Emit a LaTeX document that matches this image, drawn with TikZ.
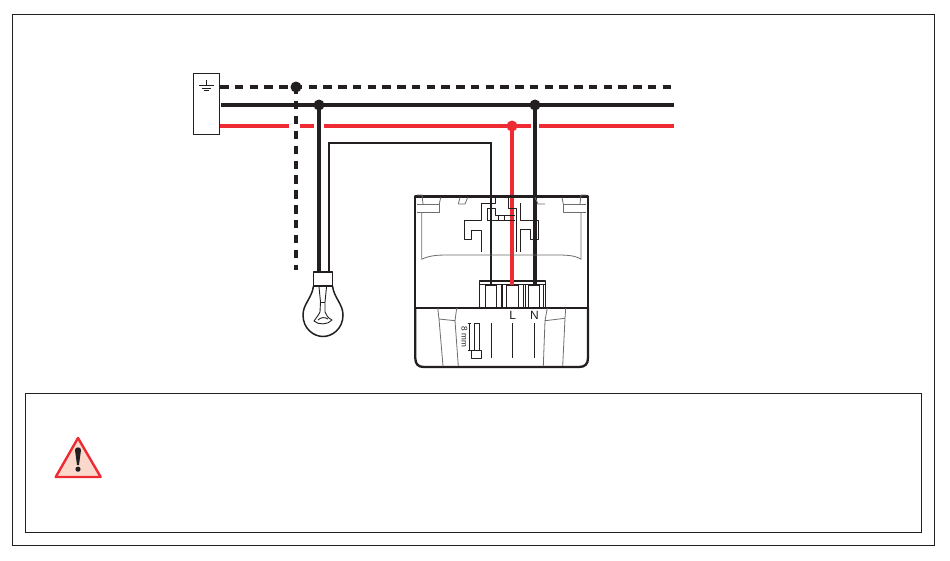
\documentclass[tikz,border=0pt]{standalone}
\usepackage{fontspec}
\setmainfont{Liberation Sans}
\definecolor{wred}{HTML}{EE2A32}
\definecolor{wblack}{HTML}{231F20}
\definecolor{hgray}{HTML}{6E6E6E}
\definecolor{warnfill}{HTML}{FAD9CC}
\tikzset{
  frame/.style={draw=wblack,line width=0.8pt},
  blackwire/.style={draw=wblack,line width=4.2pt},
  redwire/.style={draw=wred,line width=3.8pt},
  pewire/.style={draw=wblack,line width=4.2pt,dash pattern=on 8.5pt off 6.25pt},
  thinwire/.style={draw=wblack,line width=1.8pt},
  blackdot/.style={circle,fill=wblack,inner sep=0pt,minimum size=11pt},
  reddot/.style={circle,fill=wred,inner sep=0pt,minimum size=11pt},
  casing/.style={draw=wblack,line width=2.3pt,line join=round},
  fineline/.style={draw=wblack,line width=0.9pt,line join=round},
  hidden/.style={draw=hgray,line width=0.8pt,line join=round},
  lamp/.style={draw=wblack,line width=1.5pt,line join=round},
  terminalbox/.style={draw=wblack,line width=1.1pt,minimum width=11.5pt,minimum height=22pt,inner sep=0pt},
}
\begin{document}
\begin{tikzpicture}[x=1pt,y=-1pt]
\useasboundingbox (0,0) rectangle (950,560);
\fill[white] (0,0) rectangle (950,560);
\draw[frame] (12,14) rectangle (934,545);
\draw[frame] (25,393) rectangle (921,532);

% supply box with earth symbol
\node[draw=wblack,line width=1pt,minimum width=26pt,minimum height=61pt,inner sep=0pt] (supply) at (206.5,103.5) {};
\draw[fineline] (206.3,80) -- (206.3,85.7) (199,85.7) -- (214,85.7) (202.3,88.5) -- (210.5,88.5) (203.8,90.5) -- (209,90.5);

% named points
\coordinate (peS) at (220,87);
\coordinate (peE) at (673,87);
\coordinate (nS) at (221,105);
\coordinate (nE) at (674,105);
\coordinate (lS) at (219.5,126);
\coordinate (lE) at (674,126);
\node[blackdot] (peJ) at (296,87) {};
\node[blackdot] (nJ1) at (319,105) {};
\node[blackdot] (nJ2) at (535,105) {};
\node[reddot] (lJ) at (512,126) {};
\coordinate (peEnd) at (296,270);
\coordinate (lampN) at (319,272);
\coordinate (lampS) at (329,272);
\coordinate (swA) at (329,143);
\coordinate (swB) at (491,143);
\coordinate (swC) at (491,285);
\coordinate (termL) at (512,285);
\coordinate (termN) at (535,285);

% horizontal wires
\draw[pewire] (peS) -- (peE);
\draw[blackwire] (nS) -- (nE);
\draw[redwire] (lS) -- (289,126);
\draw[redwire] (300,126) -- (313.5,126);
\draw[redwire] (323.5,126) -- (530.5,126);
\draw[redwire] (539,126) -- (lE);

% vertical wires
\draw[pewire,dash pattern=on 8.3pt off 6.6pt,dash phase=1pt] (peJ.center) -- (peEnd);
\draw[blackwire] (nJ1.center) -- (lampN);
\draw[thinwire] (lampS) -- (swA) -- (swB) -- (swC);
\draw[redwire] (lJ.center) -- (termL);
\draw[blackwire] (nJ2.center) -- (termN);

% lamp
\draw[lamp,fill=white] (313.3,271.8) rectangle (332.7,286);
\draw[lamp] (313.5,286) .. controls (312,298) and (303,304) .. (303,315)
  .. controls (303,329) and (314,336.5) .. (323,336.5)
  .. controls (332,336.5) and (343,329) .. (343,315)
  .. controls (343,304) and (334,298) .. (332.5,286);
\draw[lamp,line width=0.9pt] (319,287) -- (320.5,302) -- (320,312) .. controls (318,316) and (316,318) .. (314,321)
  .. controls (318,325) and (328,325) .. (332,320) .. controls (328,318) and (326,315) .. (325,312) -- (325,302) -- (326.5,287);
\draw[lamp,line width=0.9pt] (320.5,302) -- (325,302);
\draw[lamp,line width=0.9pt] (318,320) .. controls (321,317) and (325,317) .. (328,319);

% device casing
\draw[casing] (415.3,308) -- (415.3,196.5) -- (588,196.5) -- (588,308);
\draw[casing] (415.3,308) -- (415.3,358) .. controls (415.3,364) and (418,367) .. (424,367) -- (579,367) .. controls (585,367) and (588,364) .. (588,358) -- (588,308);
\draw[fineline,line width=1.1pt] (415.3,308) -- (588,308);
\draw[hidden] (417,195) -- (422,195) -- (423,204);
\draw[hidden] (586,195) -- (581,195) -- (580,204);

% device top: hidden contours
\draw[hidden] (417,204) -- (439.3,204) -- (439.3,212.3) -- (417,212.3);
\draw[hidden] (439.3,204) -- (440.7,197.5);
\draw[hidden] (458.3,204) -- (465,204) -- (467.7,197.5);
\draw[hidden] (460,197.5) -- (458.3,204);
\draw[hidden] (586,204) -- (563.3,204) -- (563.3,212.3) -- (586,212.3);
\draw[hidden] (545,204) -- (538,204) -- (535,197.5);
\draw[hidden] (563.3,204) -- (562,197.5);
\draw[hidden] (421.7,212.3) -- (421.7,259.3) .. controls (430,255) and (440,255) .. (450,255) -- (555,255) .. controls (565,255) and (575,255) .. (581,259.3) -- (581,212.3);

% device: central switch contour
\draw[fineline] (481.7,251.7) -- (481.7,230) -- (471.7,230) -- (471.7,239.3) -- (464.3,239.3) -- (464.3,220.7) -- (481.7,220.7) -- (481.7,203.3) -- (495,203.3) -- (495,197.5);
\draw[fineline] (508.3,197.5) -- (508.3,208.3) -- (516,208.3) -- (516,251.7);
\draw[fineline] (520.7,203.3) -- (520.7,220.7) -- (538.3,220.7) -- (538.3,239.3) -- (530.7,239.3) -- (530.7,229.3) -- (520.7,229.3) -- (520.7,251.7);
\draw[fineline] (487.3,220.7) -- (487.3,208.3) -- (495,208.3) -- (495,215) -- (515,215);
\draw[fineline] (487.3,220.7) -- (515,220.7);
\draw[fineline] (498.3,215) rectangle (504.3,220.7);

% terminal block
\draw[fineline,line width=1.1pt] (479.3,308) -- (479.3,281) -- (545.7,281) -- (545.7,308);
\draw[fineline] (479.3,284.5) -- (545.7,284.5);
\node[terminalbox] (t1) at (491,296.5) {};
\node[terminalbox] (t2) at (512.5,296.5) {};
\node[terminalbox] (t3) at (534,296.5) {};
\draw[fineline] (501,285) -- (501,308) (502.5,285) -- (502.5,308) (523.5,285) -- (523.5,308) (525,285) -- (525,308) (543,285) -- (543,308);

% wire ends over terminals
\draw[thinwire] (491,280) -- (swC);
\draw[redwire] (512,280) -- (termL);
\draw[blackwire] (535,280) -- (termN);

% device bottom
\draw[hidden] (437.7,308) -- (439,319) -- (455,320.7) -- (456.7,308);
\draw[hidden] (439,319) -- (443,366);
\draw[hidden] (455,320.7) -- (458.3,366);
\draw[hidden] (565.7,308) -- (565,318.3) -- (545,320.7) -- (547.3,308);
\draw[hidden] (545,320.7) -- (543.3,366);
\draw[hidden] (565,318.3) -- (562.7,366);
\draw[fineline] (491.7,323) -- (491.7,358) (512.3,323) -- (512.3,358) (534.3,323) -- (534.3,358);
\node[font=\fontsize{12}{14}\selectfont,text=wblack,inner sep=0pt] (labL) at (512.7,315.5) {L};
\node[font=\fontsize{12}{14}\selectfont,text=wblack,inner sep=0pt] (labN) at (534.5,315.5) {N};

% 8 mm gauge
\draw[fineline] (474,323.3) rectangle (479,350);
\draw[fineline] (471.7,350) rectangle (481,358.7);
\draw[fineline,line width=0.6pt] (469,323.3) -- (469,350) (467.5,323.3) -- (470.5,323.3) (467.5,350) -- (470.5,350);
\node[font=\fontsize{8.2}{10}\selectfont,text=wblack,rotate=-90,inner sep=0pt] (gauge) at (464.5,337) {8 mm};

% warning triangle
\draw[draw=wred,fill=warnfill,line width=2.4pt,line join=round] (78,438) -- (100.7,477) -- (55.7,477) -- cycle;
\fill[wblack] (75,450) .. controls (75,446.5) and (81,446.5) .. (81,450) -- (79,465) -- (77,465) -- cycle;
\fill[wblack] (78,469.2) circle (2.6pt);
\end{tikzpicture}
\end{document}
